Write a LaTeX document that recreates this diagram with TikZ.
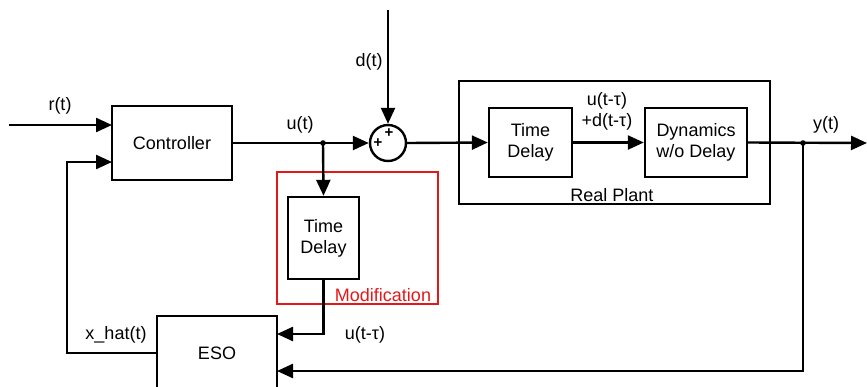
\documentclass[tikz,border=0pt]{standalone}
\usepackage{fontspec}
\setmainfont{Liberation Sans}
\usetikzlibrary{arrows.meta}
\definecolor{modred}{RGB}{228,24,24}
\begin{document}
\begin{tikzpicture}[x=1pt,y=-1pt,line width=2.4pt,
  txt/.style={font=\fontsize{18}{21}\selectfont},
  blk/.style={draw,line width=2.4pt,rectangle,inner sep=0pt,align=center,txt},
  lbl/.style={inner sep=0pt,align=center,txt},
  >={Triangle[length=16pt,width=14pt]}]
\useasboundingbox (0,0) rectangle (867,386);
\clip (0,0) rectangle (867,386);
% blocks
\node[blk,minimum width=120pt,minimum height=74pt] (ctrl) at (172,143) {Controller};
\node[draw,line width=2.4pt,circle,minimum size=36pt,inner sep=0pt] (sum) at (388,143) {};
\node[draw,line width=2.4pt,rectangle,minimum width=311pt,minimum height=123pt] (plant) at (614.5,142.5) {};
\node[blk,minimum width=83pt,minimum height=69pt] (td1) at (530.5,142.5) {Time\\Delay};
\node[blk,minimum width=102pt,minimum height=69pt] (dyn) at (696,142.5) {Dynamics\\w/o Delay};
\node[draw=modred,line width=2.4pt,rectangle,minimum width=161pt,minimum height=132pt] (mod) at (357.5,238) {};
\node[blk,minimum width=71pt,minimum height=82pt] (td2) at (323.5,238) {Time\\Delay};
\node[blk,minimum width=120pt,minimum height=74pt] (eso) at (217,353) {ESO};
% plus signs
\node[inner sep=0pt,font=\fontsize{15}{15}\selectfont\bfseries] (p1) at (389,133) {+};
\node[inner sep=0pt,font=\fontsize{15}{15}\selectfont\bfseries] (p2) at (378,143) {+};
% coordinates
\coordinate (rin) at (9,125);
\coordinate (c1) at (112,125);
\coordinate (c2) at (112,162);
\coordinate (dtop) at (388,10);
\coordinate (dot) at (323,143);
\coordinate (yj) at (803,143);
\coordinate (yend) at (867,143);
\coordinate (e1) at (277,334);
\coordinate (e2) at (277,371);
\coordinate (fbx) at (67,250);
% connectors
\draw[->] (rin) -- (c1);
\draw (ctrl.east) -- (dot);
\draw[->] (dot) -- (sum.west);
\draw[->] (dtop) -- (sum.north);
\draw[->] (sum.east) -- (td1.west);
\draw[->] (td1.east) -- (dyn.west);
\draw[->] (dyn.east) -- (yend);
\draw[->] (dot) -- (td2.north);
\draw[->] (td2.south) |- (e1);
\draw[->] (yj) |- (e2);
\draw[->] (eso.west) -| (fbx) |- (c2);
\fill (dot) circle (2.8pt);
\fill (yj) circle (2.8pt);
% labels
\node[lbl] (lr) at (60,106) {r(t)};
\node[lbl] (ld) at (369,62) {d(t)};
\node[lbl] (lu) at (300,125) {u(t)};
\node[lbl] (lutau) at (607,111) {u(t-τ)\\+d(t-τ)};
\node[lbl] (ly) at (826,125) {y(t)};
\node[lbl] (lplant) at (612,195) {Real Plant};
\node[lbl] (lx) at (116,335) {x\_hat(t)};
\node[lbl] (lu2) at (365,335) {u(t-τ)};
\node[lbl,text=modred] (lmod) at (383,295) {Modification};
\end{tikzpicture}
\end{document}
